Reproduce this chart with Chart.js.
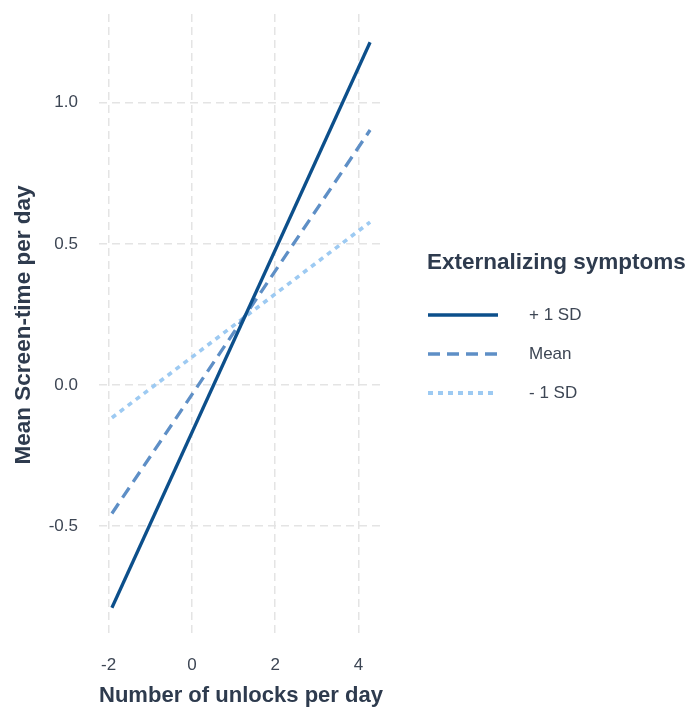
<!DOCTYPE html>
<html>
<head>
<meta charset="utf-8">
<script src="https://cdn.jsdelivr.net/npm/chart.js@4/dist/chart.umd.min.js"></script>
<style>
  body { margin: 0; background: #fff; }
  #wrap { position: relative; width: 689px; height: 707px; }
  #legend { position: absolute; left: 427px; top: 248px; font-family: "Liberation Sans", Arial, sans-serif; }
  #legend .ttl { font-weight: bold; font-size: 22.5px; line-height: 28px; color: #2e3b4e; margin-bottom: 19px; }
  #legend .row { height: 39.3px; display: flex; align-items: center; }
  #legend .row span { margin-left: 30px; font-size: 17px; color: #3d4654; }
</style>
</head>
<body>
<div id="wrap">
  <canvas id="c" width="689" height="707"></canvas>
  <div id="legend"></div>
</div>
<script>
// series values
const xValues = [-1.92, 4.28];
const plusSD = [-0.789, 1.214];
const meanSD = [-0.455, 0.903];
const minusSD = [-0.116, 0.577];
const seriesNames = ['+ 1 SD', 'Mean', '- 1 SD'];
const xTicks = [-2, 0, 2, 4];
const yTicks = [-0.5, 0, 0.5, 1.0];

const colors = ['#0c4f8b', '#5e8fc6', '#9dcaf2'];
const dashes = [[], [12, 7], [5, 5]];
const widths = [3.3, 3.3, 3.6];

function pts(ys) {
    return xValues.map((x, i) => ({ x: x, y: ys[i] }));
}

const font = "'Liberation Sans', Arial, sans-serif";
const gridStyle = { color: '#e4e4e4', lineWidth: 1.5, drawTicks: false };

new Chart(document.getElementById('c'), {
    type: 'line',
    data: {
        datasets: [plusSD, meanSD, minusSD].map((ys, i) => ({
            label: seriesNames[i],
            data: pts(ys),
            borderColor: colors[i],
            borderWidth: widths[i],
            borderDash: dashes[i],
            pointRadius: 0,
            fill: false,
            tension: 0
        }))
    },
    options: {
        responsive: false,
        animation: false,
        layout: { padding: { top: 14, right: 306, left: 0, bottom: 0 } },
        plugins: { legend: { display: false }, tooltip: { enabled: false } },
        scales: {
            x: {
                type: 'linear',
                min: -2.23, max: 4.59,
                afterBuildTicks: s => { s.ticks = xTicks.map(v => ({ value: v })); },
                afterFit: s => { s.height = 71; s.paddingLeft = 0; s.paddingRight = 0; },
                grid: gridStyle,
                border: { display: false, dash: [8, 5] },
                ticks: { padding: 19, color: '#3d4654', font: { family: font, size: 17 }, callback: v => v },
                title: { display: true, text: 'Number of unlocks per day', color: '#2e3b4e',
                         font: { family: font, size: 22.5, weight: 'bold', lineHeight: 1 }, padding: { top: 0, bottom: 0 } }
            },
            y: {
                type: 'linear',
                min: -0.889, max: 1.314,
                afterBuildTicks: s => { s.ticks = yTicks.map(v => ({ value: v })); },
                afterFit: s => { s.width = 99; s.paddingTop = 0; s.paddingBottom = 0; },
                grid: gridStyle,
                border: { display: false, dash: [8, 5] },
                ticks: { padding: 21, color: '#3d4654', font: { family: font, size: 17 }, callback: v => v.toFixed(1) },
                title: { display: true, text: 'Mean Screen-time per day', color: '#2e3b4e',
                         font: { family: font, size: 22.5, weight: 'bold', lineHeight: 1 }, padding: { top: 13, bottom: 0 } }
            }
        }
    }
});

// legend drawn as html next to the panel
let html = '<div class="ttl">Externalizing symptoms</div>';
seriesNames.forEach((name, i) => {
    html += '<div class="row"><svg width="72" height="8"><line x1="1" y1="4" x2="71" y2="4" stroke="' + colors[i] +
        '" stroke-width="' + (widths[i] + 0.3) + '" stroke-dasharray="' + (dashes[i].join(',') || 'none') + '"/></svg><span>' + name + '</span></div>';
});
document.getElementById('legend').innerHTML = html;
</script>
</body>
</html>
